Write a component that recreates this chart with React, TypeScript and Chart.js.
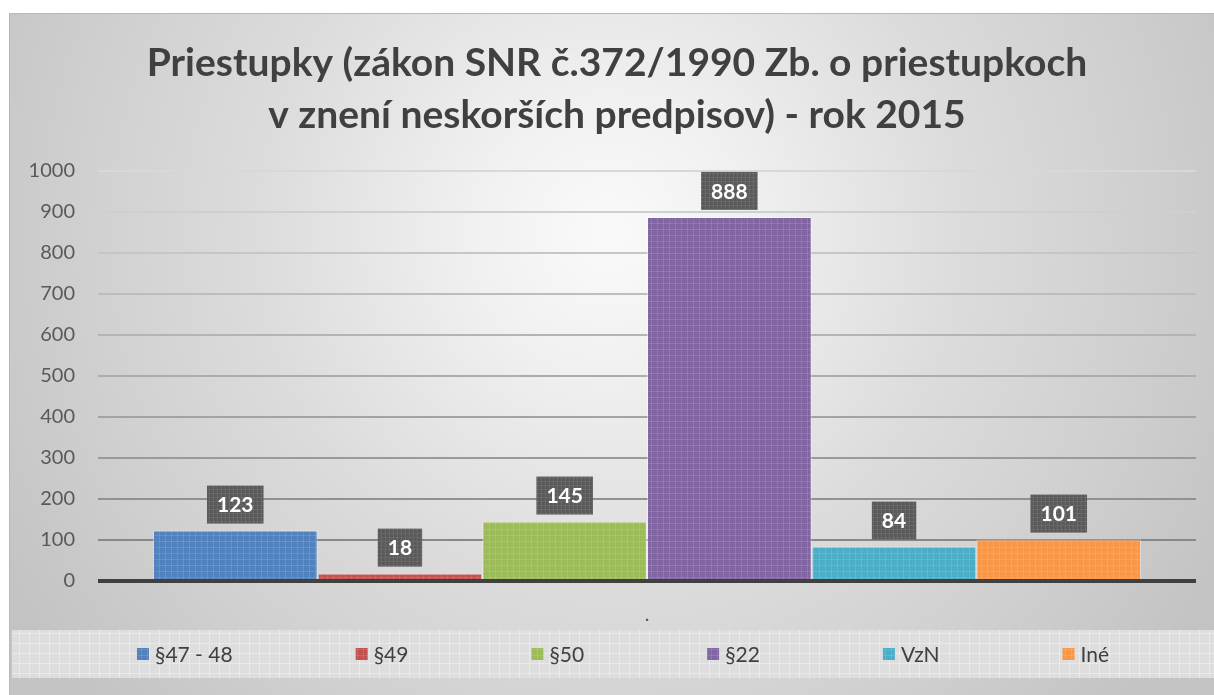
import React, { useEffect, useRef } from 'react';
import { Chart, registerables } from 'chart.js';

Chart.register(...registerables);

const categories = ['.'];
const seriesNames = ['§47 - 48', '§49', '§50', '§22', 'VzN', 'Iné'];
const seriesValues = [123, 18, 145, 888, 84, 101];
const seriesColors = ['#4f81bd', '#c0504d', '#9bbb59', '#8064a2', '#4bacc6', '#f79646'];
const yMin = 0;
const yMax = 1000;
const yStep = 100;
const titleLines = [
  'Priestupky (zákon SNR č.372/1990 Zb. o priestupkoch',
  'v znení neskorších predpisov) - rok 2015',
];

const FONT = 'Lato, "Open Sans", sans-serif';

function makePattern(base: string, size: number, lineAlpha: number, dotAlpha: number): CanvasPattern | string {
  const c = document.createElement('canvas');
  c.width = size;
  c.height = size;
  const g = c.getContext('2d');
  if (!g) return base;
  g.fillStyle = base;
  g.fillRect(0, 0, size, size);
  g.fillStyle = `rgba(255,255,255,${lineAlpha})`;
  g.fillRect(0, 0, size, 1);
  g.fillRect(0, 0, 1, size);
  g.fillStyle = `rgba(255,255,255,${dotAlpha})`;
  for (let y = 2; y < size; y += 2) {
    for (let x = (y / 2) % 2 === 0 ? 2 : 3; x < size; x += 2) {
      g.fillRect(x, y, 1, 1);
    }
  }
  const p = g.createPattern(c, 'repeat');
  return p || base;
}

export default function App() {
  const ref = useRef<HTMLCanvasElement | null>(null);

  useEffect(() => {
    const canvas = ref.current;
    if (!canvas) return;

    const barPatterns = seriesColors.map((c) => makePattern(c, 6, 0.12, 0.06));
    const labelPattern = makePattern('#595959', 4, 0.08, 0.05);
    const bandPattern = makePattern('#dddddd', 10, 0.35, 0.08);

    const backgroundPlugin = {
      id: 'bgPlugin',
      beforeDraw(chart: any) {
        const { ctx, width, height } = chart;
        ctx.save();
        const g = ctx.createRadialGradient(600, 220, 0, 600, 220, 700);
        g.addColorStop(0, '#fafafa');
        g.addColorStop(0.2, '#f0f0f0');
        g.addColorStop(0.5, '#dcdcdc');
        g.addColorStop(0.75, '#d0d0d0');
        g.addColorStop(1, '#c3c3c3');
        ctx.fillStyle = g;
        ctx.fillRect(0, 0, width, height);
        ctx.strokeStyle = '#b8b8b8';
        ctx.lineWidth = 1;
        ctx.beginPath();
        ctx.moveTo(0.5, height);
        ctx.lineTo(0.5, 0.5);
        ctx.lineTo(width, 0.5);
        ctx.stroke();
        ctx.restore();
      },
    };

    const titlePlugin = {
      id: 'centeredTitle',
      afterDraw(chart: any) {
        const ctx = chart.ctx;
        ctx.save();
        ctx.font = `bold 39px ${FONT}`;
        ctx.fillStyle = '#404040';
        ctx.textAlign = 'center';
        ctx.textBaseline = 'middle';
        const cx = 608;
        titleLines.forEach((line, i) => {
          ctx.fillText(line, cx, 50 + i * 52);
        });
        ctx.restore();
      },
    };

    const labelPlugin = {
      id: 'boxLabels',
      afterDatasetsDraw(chart: any) {
        const ctx = chart.ctx;
        ctx.save();
        ctx.font = `bold 21px ${FONT}`;
        chart.data.datasets.forEach((ds: any, i: number) => {
          const meta = chart.getDatasetMeta(i);
          meta.data.forEach((el: any, j: number) => {
            const txt = String(ds.data[j]);
            const w = ctx.measureText(txt).width + 20;
            const h = 38;
            const x = el.x - w / 2;
            const y = el.y - 7 - h;
            ctx.fillStyle = labelPattern;
            ctx.fillRect(x, y, w, h);
            ctx.fillStyle = '#ffffff';
            ctx.textAlign = 'center';
            ctx.textBaseline = 'middle';
            ctx.fillText(txt, el.x, y + h / 2 + 1);
          });
        });
        ctx.restore();
      },
    };

    const legendPlugin = {
      id: 'bandLegend',
      afterDraw(chart: any) {
        const { ctx, width } = chart;
        ctx.save();
        const bandTop = 617;
        const bandH = 48;
        ctx.fillStyle = bandPattern;
        ctx.fillRect(3, bandTop, width - 3, bandH);
        ctx.font = `21px ${FONT}`;
        const box = 12;
        const gapText = 6;
        const gapItem = 123;
        const items = chart.data.datasets.map((ds: any, i: number) => ({
          text: ds.label,
          fill: barPatterns[i],
          w: box + gapText + ctx.measureText(ds.label).width,
        }));
        const total = items.reduce((s: number, it: any) => s + it.w, 0) + gapItem * (items.length - 1);
        let x = 614 - total / 2;
        const cy = bandTop + bandH / 2;
        items.forEach((it: any) => {
          ctx.fillStyle = it.fill;
          ctx.fillRect(x, cy - box / 2, box, box);
          ctx.fillStyle = '#404040';
          ctx.textAlign = 'left';
          ctx.textBaseline = 'middle';
          ctx.fillText(it.text, x + box + gapText, cy + 1);
          x += it.w + gapItem;
        });
        ctx.restore();
      },
    };

    const chart = new Chart(canvas, {
      type: 'bar',
      data: {
        labels: categories,
        datasets: seriesNames.map((name, i) => ({
          label: name,
          data: [seriesValues[i]],
          backgroundColor: barPatterns[i] as any,
          borderColor: 'rgba(255,255,255,0.45)',
          borderWidth: 1,
          categoryPercentage: 0.9,
          barPercentage: 1.0,
        })),
      },
      options: {
        responsive: false,
        animation: false,
        devicePixelRatio: 1,
        layout: { padding: { left: 0, right: 18, top: 158, bottom: 70 } },
        plugins: {
          legend: { display: false },
          tooltip: { enabled: false },
          title: { display: false },
        },
        scales: {
          x: {
            afterFit: (scale: any) => {
              scale.height = 44;
            },
            grid: { display: false, drawTicks: false },
            border: { display: false },
            ticks: { color: '#595959', font: { family: FONT, size: 20 }, padding: 22, maxRotation: 0 },
          },
          y: {
            min: yMin,
            max: yMax,
            afterFit: (scale: any) => {
              scale.width = 89;
            },
            border: { display: false },
            grid: {
              drawTicks: false,
              color: (c: any) => {
                const v = c.tick ? c.tick.value : 0;
                if (v === 0) return '#404040';
                const t = (v - 100) / 900;
                const g = Math.round(0x88 + t * (0xd8 - 0x88));
                return `rgb(${g},${g},${g})`;
              },
              lineWidth: (c: any) => (c.tick && c.tick.value === 0 ? 4 : 2),
            },
            ticks: {
              stepSize: yStep,
              color: '#595959',
              font: { family: FONT, size: 20 },
              padding: 23,
              callback: (v: any) => String(v),
            },
          },
        },
      },
      plugins: [backgroundPlugin, labelPlugin, legendPlugin, titlePlugin],
    } as any);

    return () => {
      chart.destroy();
    };
  }, []);

  return (
    <div style={{ position: 'absolute', left: 9, top: 13, width: 1205, height: 682, overflow: 'hidden' }}>
      <canvas ref={ref} width={1205} height={682} style={{ display: 'block', width: 1205, height: 682 }} />
    </div>
  );
}
